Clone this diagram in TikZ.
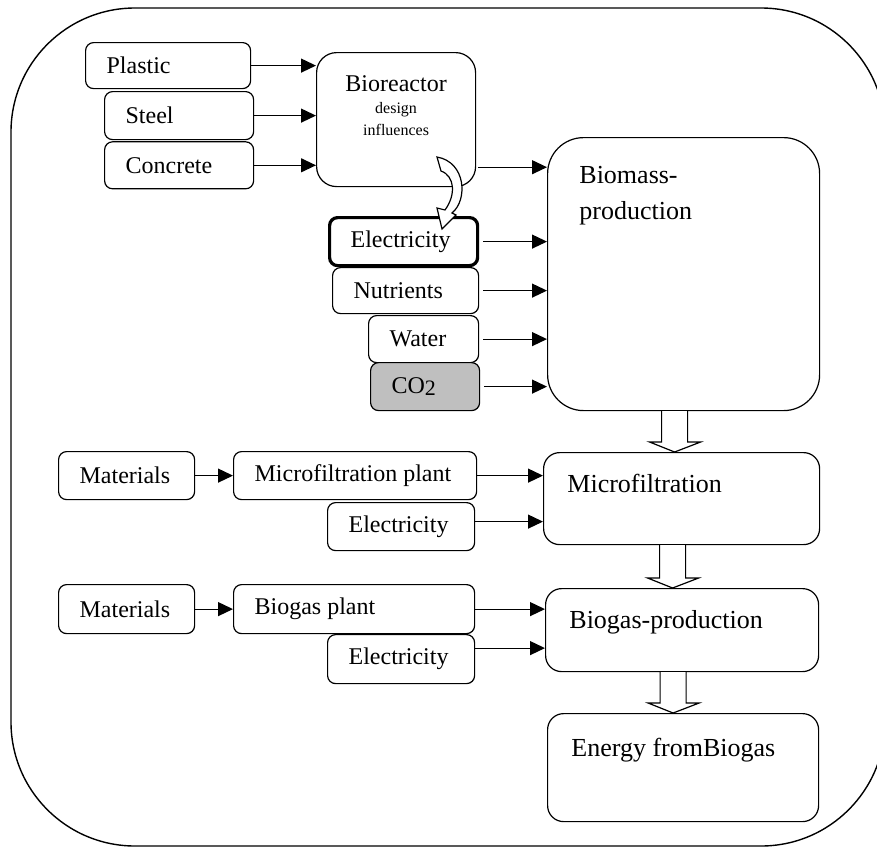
\documentclass[tikz,border=0pt]{standalone}
\usepackage{fontspec}
\setmainfont{Liberation Serif}
\usetikzlibrary{positioning,calc,arrows.meta}
\tikzset{
  inbox/.style={rectangle, rounded corners=4pt, draw=black, line width=0.6pt, anchor=north west, align=flush left, inner xsep=10.5pt, inner ysep=0pt, minimum height=23.5pt},
  bigbox/.style={rectangle, rounded corners=8pt, draw=black, line width=0.6pt, anchor=north west},
  bigtext/.style={anchor=north west, align=flush left, inner sep=0pt, font=\fontsize{13}{18}\selectfont, xshift=12pt, yshift=-11pt},
  brtext/.style={anchor=north, align=center, inner sep=0pt, font=\fontsize{12}{11}\selectfont, yshift=-11.5pt},
  hollow/.style={draw=black, fill=white, line width=0.6pt},
  flow/.style={->, line width=0.6pt},
  >={Triangle[length=7.5pt,width=7pt]}
}
\begin{document}
\begin{tikzpicture}[x=0.5pt, y=-0.5pt, font=\fontsize{12}{14}\selectfont]
	\useasboundingbox (0,0) rectangle (877,847);
	\clip (0,0) rectangle (877,847);
	\draw[line width=0.7pt, rounded corners=62pt] (11,8) rectangle (885,846);
	% bioreactor inputs
	\node[inbox, text width=61.5pt, minimum height=23pt] (plastic) at (85,42) {Plastic};
	\node[inbox, text width=53.5pt, minimum height=24pt] (steel) at (104,91) {Steel};
	\node[inbox, text width=53.5pt, below=0.5pt of steel] (concrete) {Concrete};
	\node[bigbox, minimum width=79.5pt, minimum height=67pt, rounded corners=10pt,
		label={[brtext]north:Bioreactor\\{\fontsize{8}{11}\selectfont design}\\{\fontsize{8}{11}\selectfont influences}}] (bioreactor) at (316,52) {};
	% biomass inputs
	\node[inbox, text width=53pt, minimum height=24pt, line width=1.6pt] (elec) at (328,216) {Electricity};
	\node[inbox, text width=52pt, minimum height=23pt] (nutrients) at (332,267) {Nutrients};
	\node[inbox, text width=34pt] (water) at (368,315) {Water};
	\node[inbox, text width=33.5pt, minimum height=24pt, fill=black!25] (co2) at (370,362) {CO\raisebox{-0.8pt}{\fontsize{11}{12}\selectfont 2}};
	\node[bigbox, minimum width=136pt, minimum height=136.5pt, rounded corners=18pt,
		label={[bigtext, xshift=4pt, yshift=-3.5pt]north west:Biomass-\\production}] (biomass) at (547,137) {};
	% microfiltration
	\node[inbox, text width=47pt, minimum height=24pt] (mat1) at (58,451) {Materials};
	\node[inbox, text width=100.5pt, minimum height=24pt] (mfplant) at (233,451) {Microfiltration plant};
	\node[inbox, text width=52.5pt, minimum height=24pt] (elec2) at (327,502) {Electricity};
	\node[bigbox, minimum width=138pt, minimum height=46pt, label={[bigtext]north west:Microfiltration}] (mf) at (543,452) {};
	% biogas
	\node[inbox, text width=47pt, minimum height=24.5pt] (mat2) at (58,584) {Materials};
	\node[inbox, text width=99.5pt, minimum height=24.5pt] (bgplant) at (233,584) {Biogas plant};
	\node[inbox, text width=52.5pt, minimum height=24.5pt] (elec3) at (327,634) {Electricity};
	\node[bigbox, minimum width=136.5pt, minimum height=41.5pt, label={[bigtext]north west:Biogas-production}] (bg) at (545,588) {};
	\node[bigbox, minimum width=135.5pt, minimum height=54pt, label={[bigtext, yshift=-1.5pt]north west:Energy fromBiogas}] (energy) at (547,713) {};
	%
	\foreach \n in {plastic,steel,concrete}
		\draw[flow] (\n.east) -- (\n.east -| bioreactor.west);
	\coordinate (brout) at ($(bioreactor.south east)+(2,-20)$);
	\draw[flow] (brout) -- (brout -| biomass.west);
	\foreach \n in {elec,nutrients,water,co2}
		\draw[flow, shorten <=2pt] (\n.east) -- (\n.east -| biomass.west);
	\draw[flow] (mat1.east) -- (mfplant.west);
	\draw[flow] (mfplant.east) -- (mfplant.east -| mf.west);
	\coordinate (e2out) at ($(elec2.east)+(0,-5)$);
	\draw[flow] (e2out) -- (e2out -| mf.west);
	\draw[flow] (mat2.east) -- (bgplant.west);
	\draw[flow] (bgplant.east) -- (bgplant.east -| bg.west);
	\coordinate (e3out) at ($(elec3.east)+(0,-11)$);
	\draw[flow] (e3out) -- (e3out -| bg.west);
	% hollow block arrows
	\foreach \a/\b in {biomass/mf,mf/bg,bg/energy}
		\draw[hollow] let \p1=(\a.south), \p2=(\b.north) in
			(\x1-11pt,\y1) -- (\x1-11pt,\y2+5pt) -- (\x1-17pt,\y2+5pt) -- (\x1-4.5pt,\y2)
			-- (\x1+8.5pt,\y2+5pt) -- (\x1+2pt,\y2+5pt) -- (\x1+2pt,\y1);
	% design influences
	\draw[hollow] (437,157) .. controls (466,162) and (468,200) .. (452,213) -- (456,215) -- (442,229)
		-- (437,208) -- (445,210) .. controls (456,195) and (455,176) .. (441,171) -- cycle;
\end{tikzpicture}
\end{document}
